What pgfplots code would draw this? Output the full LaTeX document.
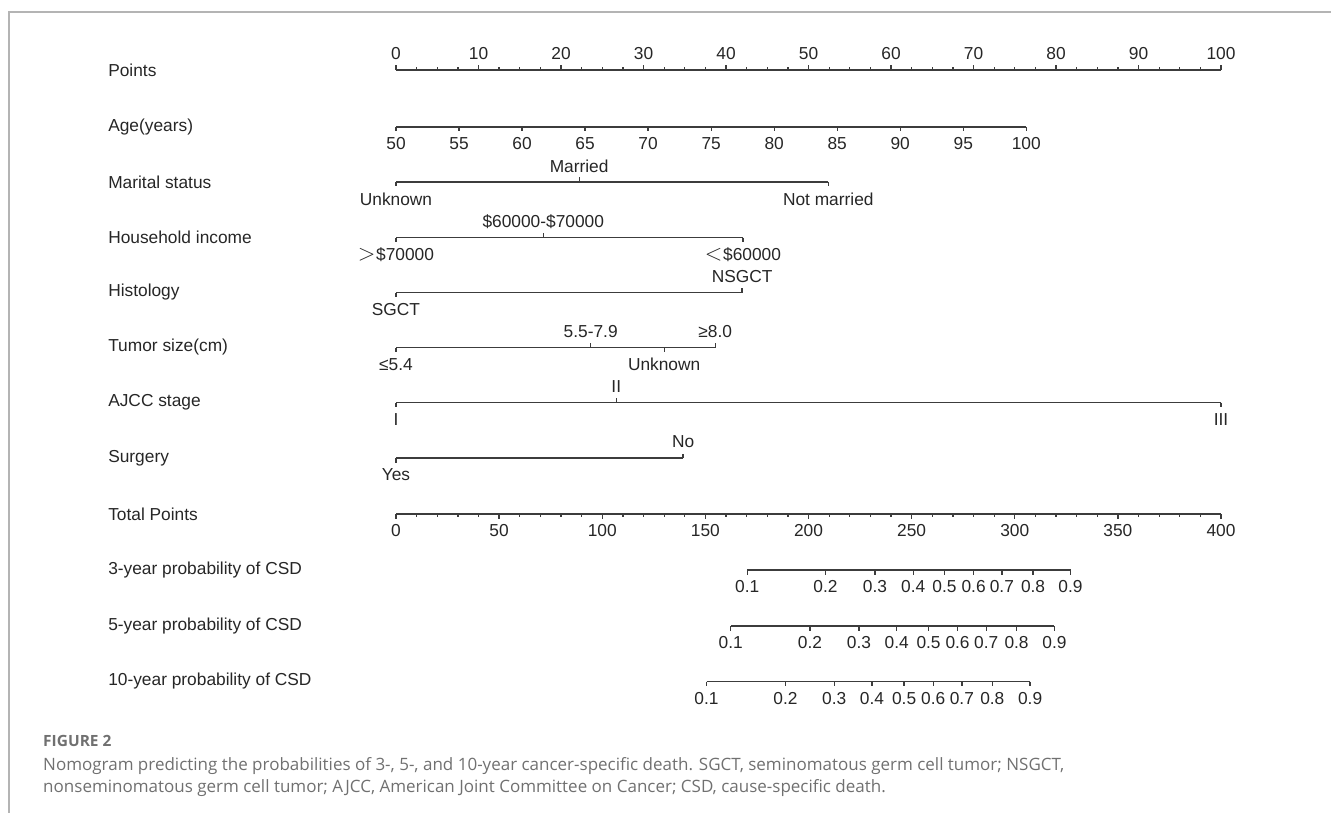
\documentclass[border=0pt]{standalone}
\usepackage{pgfplots}
\pgfplotsset{compat=1.18}
\usepackage{fontspec}
\setmainfont{Liberation Sans}
\newfontfamily\capfont{Open Sans}
\definecolor{linec}{HTML}{3C3C3C}
\definecolor{txtc}{HTML}{262626}
\definecolor{capc}{HTML}{707070}
\definecolor{framec}{HTML}{B4B4B4}
\pgfplotsset{
  tkup/.style={forget plot, mark=none, draw=linec, line width=0.95pt, quiver={u=0, v=-#1}},
  tkdown/.style={forget plot, mark=none, draw=linec, line width=0.95pt, quiver={u=0, v=#1}},
  labup/.style={only marks, mark=none, forget plot, nodes near coords,
    point meta=explicit symbolic,
    every node near coord/.append style={anchor=center, yshift=12pt, text=txtc, inner sep=0pt}},
  labdown/.style={only marks, mark=none, forget plot, nodes near coords,
    point meta=explicit symbolic,
    every node near coord/.append style={anchor=center, yshift=-12.75pt, text=txtc, inner sep=0pt}},
  labrow/.style={only marks, mark=none, forget plot, nodes near coords,
    point meta=explicit symbolic,
    every node near coord/.append style={anchor=west, text=txtc, inner sep=0pt}},
  axline/.style={draw=linec, line width=0.95pt, mark=none, forget plot},
}
\newcommand{\gtsym}{{\fontsize{17pt}{17pt}\selectfont$>$}\kern0.5pt}
\newcommand{\ltsym}{{\fontsize{17pt}{17pt}\selectfont$<$}\kern0.5pt}
\begin{document}
\begin{tikzpicture}[font=\fontsize{13pt}{15.6pt}\selectfont]
\begin{axis}[
  scale only axis, width=998.25pt, height=609.75pt,
  xmin=-48, xmax=113.3333, ymin=0, ymax=813, y dir=reverse,
  hide axis, clip=false,
]
% ---- row names ----
\addplot[labrow] table[meta=lab] {
x y lab
-34.909 70 Points
-34.909 127 {Age(years)}
-34.909 182 {Marital status}
-34.909 237.5 {Household income}
-34.909 292.5 Histology
-34.909 347.5 {Tumor size(cm)}
-34.909 402.5 {AJCC stage}
-34.909 458 Surgery
-34.909 514 {Total Points}
-34.909 570 {3-year probability of CSD}
-34.909 626 {5-year probability of CSD}
-34.909 681.5 {10-year probability of CSD}
};
% ---- Points ----
\addplot[axline] coordinates {(0,70) (100,70)};
\addplot[tkup=5] table {
x y
0 70
10 70
20 70
30 70
40 70
50 70
60 70
70 70
80 70
90 70
100 70
};
\addplot[tkup=2.5] table {
x y
2.5 70
5 70
7.5 70
12.5 70
15 70
17.5 70
22.5 70
25 70
27.5 70
32.5 70
35 70
37.5 70
42.5 70
45 70
47.5 70
52.5 70
55 70
57.5 70
62.5 70
65 70
67.5 70
72.5 70
75 70
77.5 70
82.5 70
85 70
87.5 70
92.5 70
95 70
97.5 70
};
\addplot[labup] table[meta=lab] {
x y lab
0 70 0
10 70 10
20 70 20
30 70 30
40 70 40
50 70 50
60 70 60
70 70 70
80 70 80
90 70 90
100 70 100
};
% ---- Age ----
\addplot[axline] coordinates {(0,127) (76.40,127)};
\addplot[tkdown=4.5] table {
x y
0 127
7.64 127
15.28 127
22.92 127
30.56 127
38.20 127
45.84 127
53.48 127
61.12 127
68.76 127
76.40 127
};
\addplot[labdown] table[meta=lab] {
x y lab
0 127 50
7.64 127 55
15.28 127 60
22.92 127 65
30.56 127 70
38.20 127 75
45.84 127 80
53.48 127 85
61.12 127 90
68.76 127 95
76.40 127 100
};
% ---- Marital status ----
\addplot[axline] coordinates {(0,182) (52.4,182)};
\addplot[tkup=4.5] table {
x y
22.2 182
};
\addplot[tkdown=4.5] table {
x y
0 182
52.4 182
};
\addplot[labup] table[meta=lab] {
x y lab
22.2 182 Married
};
\addplot[labdown] table[meta=lab] {
x y lab
0 182 Unknown
52.4 182 {Not married}
};
% ---- Household income ----
\addplot[axline] coordinates {(0,237.5) (42.06,237.5)};
\addplot[tkup=4.5] table {
x y
17.85 237.5
};
\addplot[tkdown=4.5] table {
x y
0 237.5
42.06 237.5
};
\addplot[labup] table[meta=lab] {
x y lab
17.85 237.5 {\$60000-\$70000}
};
\addplot[labdown] table[meta=lab] {
x y lab
0 237.5 {\gtsym\$70000}
42.06 237.5 {\ltsym\$60000}
};
% ---- Histology ----
\addplot[axline] coordinates {(0,292.5) (41.95,292.5)};
\addplot[tkup=4.5] table {
x y
41.95 292.5
};
\addplot[tkdown=4.5] table {
x y
0 292.5
};
\addplot[labup] table[meta=lab] {
x y lab
41.95 292.5 NSGCT
};
\addplot[labdown] table[meta=lab] {
x y lab
0 292.5 SGCT
};
% ---- Tumor size ----
\addplot[axline] coordinates {(0,347.5) (38.7,347.5)};
\addplot[tkup=4.5] table {
x y
23.6 347.5
38.7 347.5
};
\addplot[tkdown=4.5] table {
x y
0 347.5
32.5 347.5
};
\addplot[labup] table[meta=lab] {
x y lab
23.6 347.5 5.5-7.9
38.7 347.5 ≥8.0
};
\addplot[labdown] table[meta=lab] {
x y lab
0 347.5 ≤5.4
32.5 347.5 Unknown
};
% ---- AJCC stage ----
\addplot[axline] coordinates {(0,402.5) (100,402.5)};
\addplot[tkup=4.5] table {
x y
26.7 402.5
};
\addplot[tkdown=4.5] table {
x y
0 402.5
100 402.5
};
\addplot[labup] table[meta=lab] {
x y lab
26.7 402.5 II
};
\addplot[labdown] table[meta=lab] {
x y lab
0 402.5 I
100 402.5 III
};
% ---- Surgery ----
\addplot[axline] coordinates {(0,458) (34.8,458)};
\addplot[tkup=4.5] table {
x y
34.8 458
};
\addplot[tkdown=4.5] table {
x y
0 458
};
\addplot[labup] table[meta=lab] {
x y lab
34.8 458 No
};
\addplot[labdown] table[meta=lab] {
x y lab
0 458 Yes
};
% ---- Total Points (x = total/4) ----
\addplot[axline] coordinates {(0,514) (100,514)};
\addplot[tkdown=5] table {
x y
0 514
12.5 514
25 514
37.5 514
50 514
62.5 514
75 514
87.5 514
100 514
};
\addplot[tkdown=2.5] table {
x y
2.5 514
5 514
7.5 514
10 514
15 514
17.5 514
20 514
22.5 514
27.5 514
30 514
32.5 514
35 514
40 514
42.5 514
45 514
47.5 514
52.5 514
55 514
57.5 514
60 514
65 514
67.5 514
70 514
72.5 514
77.5 514
80 514
82.5 514
85 514
90 514
92.5 514
95 514
97.5 514
};
\addplot[labdown] table[meta=lab] {
x y lab
0 514 0
12.5 514 50
25 514 100
37.5 514 150
50 514 200
62.5 514 250
75 514 300
87.5 514 350
100 514 400
};
% ---- 3-year probability ----
\addplot[axline] coordinates {(42.58,570) (81.76,570)};
\addplot[tkdown=4.5] table {
x y
42.58 570
52.06 570
58.06 570
62.69 570
66.48 570
70.01 570
73.44 570
77.22 570
81.76 570
};
\addplot[labdown] table[meta=lab] {
x y lab
42.58 570 0.1
52.06 570 0.2
58.06 570 0.3
62.69 570 0.4
66.48 570 0.5
70.01 570 0.6
73.44 570 0.7
77.22 570 0.8
81.76 570 0.9
};
% ---- 5-year probability ----
\addplot[axline] coordinates {(40.58,626) (79.81,626)};
\addplot[tkdown=4.5] table {
x y
40.58 626
50.17 626
56.11 626
60.69 626
64.55 626
68.07 626
71.54 626
75.22 626
79.81 626
};
\addplot[labdown] table[meta=lab] {
x y lab
40.58 626 0.1
50.17 626 0.2
56.11 626 0.3
60.69 626 0.4
64.55 626 0.5
68.07 626 0.6
71.54 626 0.7
75.22 626 0.8
79.81 626 0.9
};
% ---- 10-year probability ----
\addplot[axline] coordinates {(37.64,681.5) (76.86,681.5)};
\addplot[tkdown=4.5] table {
x y
37.64 681.5
47.21 681.5
53.12 681.5
57.70 681.5
61.59 681.5
65.12 681.5
68.59 681.5
72.28 681.5
76.86 681.5
};
\addplot[labdown] table[meta=lab] {
x y lab
37.64 681.5 0.1
47.21 681.5 0.2
53.12 681.5 0.3
57.70 681.5 0.4
61.59 681.5 0.5
65.12 681.5 0.6
68.59 681.5 0.7
72.28 681.5 0.8
76.86 681.5 0.9
};
% ---- figure frame and caption ----
\draw[framec, line width=1.1pt] (axis cs:-46.91,813) -- (axis cs:-46.91,12) -- (axis cs:113.3333,12);
\node[anchor=west, inner sep=0pt, text=capc, font=\capfont\bfseries\fontsize{11.6pt}{13pt}\selectfont] at (axis cs:-42.79,741) {FIGURE 2};
\node[anchor=west, inner sep=0pt, text=capc, font=\capfont\fontsize{12.75pt}{15pt}\selectfont] at (axis cs:-42.79,766) {Nomogram predicting the probabilities of 3-, 5-, and 10-year cancer-specific death. SGCT, seminomatous germ cell tumor; NSGCT,};
\node[anchor=west, inner sep=0pt, text=capc, font=\capfont\fontsize{12.75pt}{15pt}\selectfont] at (axis cs:-42.79,788) {nonseminomatous germ cell tumor; AJCC, American Joint Committee on Cancer; CSD, cause-specific death.};
\end{axis}
\pgfresetboundingbox
\path[use as bounding box] (current axis.south west) rectangle (current axis.north east);
\end{tikzpicture}
\end{document}
